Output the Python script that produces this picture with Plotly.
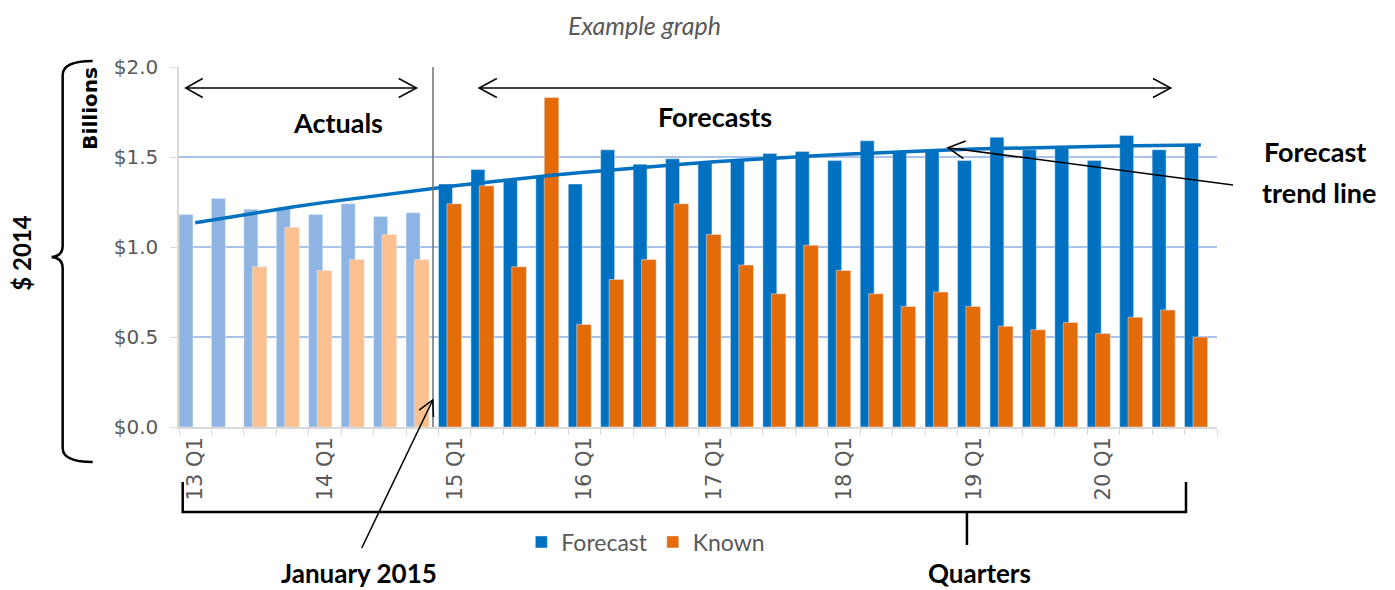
import plotly.graph_objects as go

quarters = [
    "13 Q1", "13 Q2", "13 Q3", "13 Q4", "14 Q1", "14 Q2", "14 Q3", "14 Q4",
    "15 Q1", "15 Q2", "15 Q3", "15 Q4", "16 Q1", "16 Q2", "16 Q3", "16 Q4",
    "17 Q1", "17 Q2", "17 Q3", "17 Q4", "18 Q1", "18 Q2", "18 Q3", "18 Q4",
    "19 Q1", "19 Q2", "19 Q3", "19 Q4", "20 Q1", "20 Q2", "20 Q3", "20 Q4",
]
tick_labels = [q if q.endswith("Q1") else "" for q in quarters]

# $ billions (2014 dollars)
forecast = [
    1.18, 1.27, 1.21, 1.22, 1.18, 1.24, 1.17, 1.19,
    1.35, 1.43, 1.37, 1.39, 1.35, 1.54, 1.46, 1.49,
    1.47, 1.48, 1.52, 1.53, 1.48, 1.59, 1.53, 1.54,
    1.48, 1.61, 1.54, 1.55, 1.48, 1.62, 1.54, 1.57,
]
known = [
    None, None, 0.89, 1.11, 0.87, 0.93, 1.07, 0.93,
    1.24, 1.34, 0.89, 1.83, 0.57, 0.82, 0.93, 1.24,
    1.07, 0.90, 0.74, 1.01, 0.87, 0.74, 0.67, 0.75,
    0.67, 0.56, 0.54, 0.58, 0.52, 0.61, 0.65, 0.50,
]
trend = [
    1.135, 1.165, 1.195, 1.222, 1.248, 1.272, 1.295, 1.318,
    1.340, 1.360, 1.380, 1.398, 1.415, 1.431, 1.446, 1.460,
    1.473, 1.485, 1.496, 1.506, 1.515, 1.524, 1.531, 1.538,
    1.544, 1.549, 1.553, 1.557, 1.560, 1.563, 1.565, 1.567,
]
n_actual = 8  # quarters before January 2015

BLUE = "#0070C0"
ORANGE = "#E36C09"
LIGHT_BLUE = "#8EB4E3"
LIGHT_ORANGE = "#FAC090"
GREY = "#595959"
FONT = "Lato"
WIDE = "DejaVu Sans"

# the page body adds an 8px margin, so the figure is a bit smaller than the window
PAGE_PAD = 8
W, H = 1395 - PAGE_PAD, 590 - PAGE_PAD

# plot area in window pixels
L, R, T, B = 179.3, 1217.0, 67.0, 427.0


def xp(px):
    return (px - L) / (R - L)


def yp(py):
    return (B - py) / (B - T)


def seg(x0, y0, x1, y1, width=1.5):
    return dict(type="line", xref="paper", yref="paper",
                x0=xp(x0), y0=yp(y0), x1=xp(x1), y1=yp(y1),
                line=dict(color="black", width=width))


def path(points, width=1.5):
    d = "M" + " L".join(f"{xp(x):.5f},{yp(y):.5f}" for x, y in points)
    return dict(type="path", xref="paper", yref="paper", path=d,
                line=dict(color="black", width=width))


def label(text, x, y, size=27, angle=0, family=FONT, color="black"):
    return dict(text=text, x=xp(x), y=yp(y), xref="paper", yref="paper",
                showarrow=False, textangle=angle, xanchor="center", yanchor="middle",
                font=dict(family=family, size=size, color=color))


fig = go.Figure()
fig.add_trace(go.Bar(x=quarters[:n_actual], y=forecast[:n_actual], marker_color=LIGHT_BLUE,
                     width=0.43, offset=-0.5, showlegend=False, name="Forecast"))
fig.add_trace(go.Bar(x=quarters[n_actual:], y=forecast[n_actual:], marker_color=BLUE,
                     width=0.43, offset=-0.5, name="Forecast"))
fig.add_trace(go.Bar(x=quarters[:n_actual], y=known[:n_actual], marker_color=LIGHT_ORANGE,
                     width=0.45, offset=-0.24, showlegend=False, name="Known"))
fig.add_trace(go.Bar(x=quarters[n_actual:], y=known[n_actual:], marker_color=ORANGE,
                     width=0.45, offset=-0.24, name="Known"))
fig.add_trace(go.Scatter(x=quarters, y=trend, mode="lines", showlegend=False,
                         line=dict(color=BLUE, width=3.5), hoverinfo="skip"))

shapes = [
    # January 2015 divider
    dict(type="line", xref="x", yref="paper", x0=7.33, x1=7.33, y0=0, y1=1,
         line=dict(color="#707070", width=1.5)),
    # Actuals double arrow
    seg(186, 88, 416.7, 88),
    path([(203, 78.5), (186, 88), (203, 97.5)]),
    path([(399, 78.5), (416.7, 88), (399, 97.5)]),
    # Forecasts double arrow
    seg(479.3, 88, 1170.7, 88),
    path([(497, 78.5), (479.3, 88), (497, 97.5)]),
    path([(1153, 78.5), (1170.7, 88), (1153, 97.5)]),
    # trend line pointer
    seg(948, 147.7, 1233, 185),
    path([(965.8, 141), (948, 147.7), (963.5, 158.7)]),
    # January 2015 pointer
    seg(433, 400, 362, 548),
    path([(419.3, 410.1), (433, 400), (433.7, 417)]),
    # quarters bracket
    path([(183, 482), (183, 512), (1186, 512), (1186, 482)], width=2.5),
    seg(967, 512, 967, 545, width=2.5),
    # $ 2014 brace
    dict(type="path", xref="paper", yref="paper", line=dict(color="black", width=2.5),
         path=(f"M{xp(93):.5f},{yp(61):.5f} Q{xp(63):.5f},{yp(61):.5f} {xp(63):.5f},{yp(75):.5f} "
               f"L{xp(63):.5f},{yp(246):.5f} Q{xp(63):.5f},{yp(256):.5f} {xp(52):.5f},{yp(257):.5f} "
               f"Q{xp(63):.5f},{yp(258):.5f} {xp(63):.5f},{yp(268):.5f} "
               f"L{xp(63):.5f},{yp(448):.5f} Q{xp(63):.5f},{yp(462):.5f} {xp(93):.5f},{yp(462):.5f}")),
]

annotations = [
    label("<i>Example graph</i>", 645, 25, size=25, color=GREY),
    label("<b>Actuals</b>", 338, 122),
    label("<b>Forecasts</b>", 715, 117),
    label("<b>Forecast</b>", 1315, 151),
    label("<b>trend line</b>", 1319, 192),
    label("<b>January 2015</b>", 359, 573, size=26),
    label("<b>Quarters</b>", 980, 573, size=26),
    label("<b>Billions</b>", 90, 108, size=20, angle=-90, family=WIDE),
    label("<b>$ 2014</b>", 22, 253, size=24, angle=-90),
]

fig.update_layout(
    width=W,
    height=H,
    margin=dict(l=L - PAGE_PAD, r=1395 - R, t=T - PAGE_PAD, b=590 - B),
    barmode="overlay",
    plot_bgcolor="white",
    paper_bgcolor="white",
    font=dict(family=FONT, color=GREY),
    shapes=shapes,
    annotations=annotations,
    legend=dict(orientation="h", x=xp(646), xanchor="center", y=yp(542), yanchor="middle",
                font=dict(size=23, color=GREY), itemclick=False, traceorder="normal"),
)
fig.update_xaxes(
    type="category",
    range=[-0.5, len(quarters) - 0.5],
    tickmode="array",
    tickvals=quarters,
    ticktext=tick_labels,
    tickson="boundaries",
    ticks="outside",
    ticklen=6,
    tickcolor="#D9D9D9",
    tickangle=-90,
    tickfont=dict(family=WIDE, size=21, color=GREY),
    ticklabelstandoff=0,
    showline=True,
    linecolor="#D9D9D9",
    linewidth=1.5,
    showgrid=False,
)
fig.update_yaxes(
    range=[0, 2.0],
    dtick=0.5,
    tickprefix="$",
    tickformat=".1f",
    ticks="outside",
    ticklen=7,
    tickcolor="#D9D9D9",
    tickfont=dict(family=WIDE, size=20, color=GREY),
    ticklabelstandoff=8,
    showline=True,
    linecolor="#D9D9D9",
    linewidth=1.5,
    gridcolor="#A9C2EA",
    gridwidth=1.5,
    zeroline=False,
)

fig.write_html("out.html")
